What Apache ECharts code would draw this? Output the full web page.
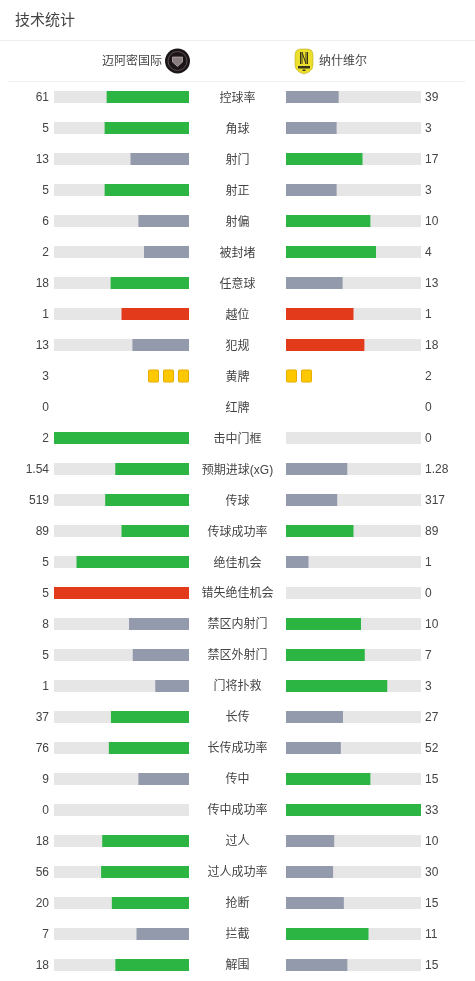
<!DOCTYPE html>
<html><head><meta charset="utf-8">
<style>html,body{margin:0;padding:0;background:#fff}#c{width:475px;height:981px}</style>
<script src="https://cdn.jsdelivr.net/npm/echarts@6/dist/echarts.min.js"></script>
</head><body><div id="c"></div>
<script>
const pageTitle = '技术统计';
const homeTeam = '迈阿密国际';
const awayTeam = '纳什维尔';
const categories = ['控球率','角球','射门','射正','射偏','被封堵','任意球','越位','犯规','黄牌','红牌','击中门框','预期进球(xG)','传球','传球成功率','绝佳机会','错失绝佳机会','禁区内射门','禁区外射门','门将扑救','长传','长传成功率','传中','传中成功率','过人','过人成功率','抢断','拦截','解围'];
const homeValues = [61,5,13,5,6,2,18,1,13,3,0,2,1.54,519,89,5,5,8,5,1,37,76,9,0,18,56,20,7,18];
const awayValues = [39,3,17,3,10,4,13,1,18,2,0,0,1.28,317,89,1,0,10,7,3,27,52,15,33,10,30,15,11,15];
const cardRows = ['黄牌','红牌'];
const badWhenHigher = ['越位','犯规','错失绝佳机会'];

const GREEN='#2db544', GREY='#929aab', RED='#e43a1c', TRACK='#e6e6e6', CARD='#fdc800';
const FONT='"Liberation Sans","Noto Sans CJK SC",sans-serif';
const TOP=81.5, H=899;

const isCard = n => cardRows.includes(n);
function barData(mine, other){
  return categories.map((n,i)=>{
    if(isCard(n)) return null;
    const a=mine[i], b=other[i];
    if(a===0) return null;
    const won=a>=b;
    const color = won ? (badWhenHigher.includes(n)?RED:GREEN) : GREY;
    return {value:a/(a+b), itemStyle:{color}};
  });
}
const track = categories.map(n=>isCard(n)?null:1);
const cardData = v => categories.map((n,i)=>[v[i],i]).filter(d=>categories[d[1]]==='黄牌');

function cardRender(isLeft){
  return function(params, api){
    const count=api.value(0), row=api.value(1), children=[];
    for(let j=0;j<count;j++){
      const p=api.coord([j,row]);
      children.push({type:'rect',
        shape:{x:isLeft?p[0]-10.5:p[0]+0.5,y:p[1]-6,width:10,height:12,r:1},
        style:{fill:CARD,stroke:'#e6ac00',lineWidth:1}});
    }
    return {type:'group',children};
  };
}
function sideSeries(idx, mine, other){
  return [
    {type:'bar',xAxisIndex:idx,yAxisIndex:idx,data:track,barWidth:12,barGap:'-100%',silent:true,itemStyle:{color:TRACK}},
    {type:'bar',xAxisIndex:idx,yAxisIndex:idx,data:barData(mine,other),barWidth:12,barGap:'-100%',silent:true},
    {type:'custom',coordinateSystem:'cartesian2d',xAxisIndex:idx+2,yAxisIndex:idx,data:cardData(mine),encode:{x:0,y:1},renderItem:cardRender(idx===0),silent:true}
  ];
}
const hiddenAxis={show:false};
const noLine={axisLine:{show:false},axisTick:{show:false}};
const option={
  animation:false,
  backgroundColor:'#fff',
  textStyle:{fontFamily:FONT},
  title:{text:pageTitle,left:15,top:13,padding:0,textStyle:{fontSize:15,fontWeight:'normal',color:'#444',fontFamily:FONT}},
  grid:[
    {left:54,width:135,top:TOP,height:H},
    {left:286,width:135,top:TOP,height:H},
    {left:54,width:135,top:TOP+1,height:H},
    {left:54,width:135,top:TOP+2,height:H},
    {left:286,width:135,top:TOP+1,height:H}
  ],
  xAxis:[
    {gridIndex:0,type:'value',min:0,max:1,inverse:true,...hiddenAxis},
    {gridIndex:1,type:'value',min:0,max:1,...hiddenAxis},
    {gridIndex:0,type:'value',min:0,max:9,inverse:true,...hiddenAxis},
    {gridIndex:1,type:'value',min:0,max:9,...hiddenAxis},
    {gridIndex:2,type:'value',...hiddenAxis},
    {gridIndex:3,type:'value',...hiddenAxis},
    {gridIndex:4,type:'value',...hiddenAxis}
  ],
  yAxis:[
    {gridIndex:0,type:'category',inverse:true,data:categories,...hiddenAxis},
    {gridIndex:1,type:'category',inverse:true,data:categories,...hiddenAxis},
    {gridIndex:2,type:'category',inverse:true,data:homeValues.map(String),position:'left',...noLine,
     axisLabel:{interval:0,margin:5,fontSize:12,color:'#444',fontFamily:FONT}},
    {gridIndex:3,type:'category',inverse:true,data:categories,position:'right',...noLine,
     axisLabel:{interval:0,margin:48.5,fontSize:12,color:'#444',align:'center',fontFamily:FONT}},
    {gridIndex:4,type:'category',inverse:true,data:awayValues.map(String),position:'right',...noLine,
     axisLabel:{interval:0,margin:4,fontSize:12,color:'#444',fontFamily:FONT}}
  ],
  series:[...sideSeries(0,homeValues,awayValues),...sideSeries(1,awayValues,homeValues)],
  graphic:[
    {type:'line',shape:{x1:0,y1:40.5,x2:475,y2:40.5},style:{stroke:'#eeeeee',lineWidth:1},silent:true},
    {type:'line',shape:{x1:8,y1:81.5,x2:465,y2:81.5},style:{stroke:'#eeeeee',lineWidth:1},silent:true},
    {type:'text',style:{text:homeTeam,x:162,y:61.5,align:'right',verticalAlign:'middle',fontSize:12,fill:'#444',fontFamily:FONT}},
    {type:'text',style:{text:awayTeam,x:319,y:61.5,align:'left',verticalAlign:'middle',fontSize:12,fill:'#444',fontFamily:FONT}},
    {type:'circle',shape:{cx:177.5,cy:61,r:12.5},style:{fill:'#1c1518'}},
    {type:'circle',shape:{cx:177.5,cy:61,r:9.5},style:{fill:'none',stroke:'#6b5f62',lineWidth:0.8}},
    {type:'polygon',shape:{points:[[172.5,57],[182.5,57],[182.5,62],[177.5,66.5],[172.5,62]]},style:{fill:'#8a7d80',stroke:'#d8c9cc',lineWidth:0.6}},
    {type:'polygon',shape:{points:[[296,51],[298,49.5],[301,49],[307,49],[310,49.5],[312,51],[313,55],[313,65],[312,69],[309,72],[304,74],[299,72],[296,69],[295,65],[295,55]]},style:{fill:'#eddf2e',stroke:'#b9ac22',lineWidth:0.6}},
    {type:'polyline',shape:{points:[[300.5,64],[300.5,52]]},style:{stroke:'#3a3618',lineWidth:1,fill:'none'}},
    {type:'polyline',shape:{points:[[302,64],[302,52],[306,64],[306,52]]},style:{stroke:'#3a3618',lineWidth:1,fill:'none'}},
    {type:'polyline',shape:{points:[[307.5,64],[307.5,52]]},style:{stroke:'#3a3618',lineWidth:1,fill:'none'}},
    {type:'rect',shape:{x:298,y:66,width:12,height:2.5},style:{fill:'#3a3618'}},
    {type:'rect',shape:{x:302.5,y:69.5,width:3,height:1.5},style:{fill:'#3a3618'}}
  ]
};
const chart=echarts.init(document.getElementById('c'),null,{renderer:'canvas'});
chart.setOption(option);
</script></body></html>
